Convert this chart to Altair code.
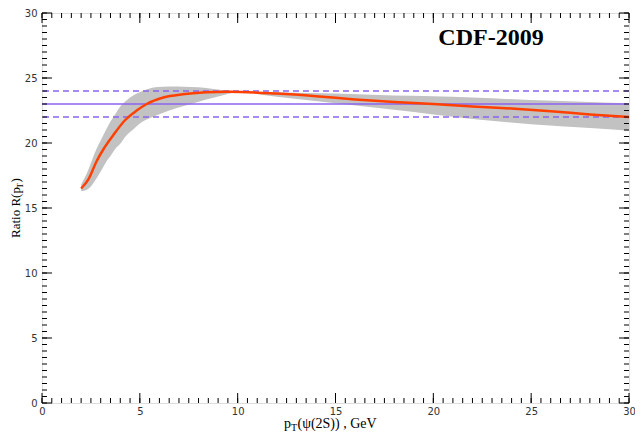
import altair as alt
import pandas as pd

# central curve R(pT)
curve_x = [2.0, 2.37, 2.79, 3.13, 3.64, 4.24, 4.84, 5.35, 6.2, 7.2, 8.4, 9.5, 12.0, 14.0,
           16.0, 18.0, 20.0, 22.0, 24.0, 26.0, 28.0, 30.0]
curve_y = [16.5, 17.2, 18.6, 19.5, 20.6, 21.75, 22.5, 23.0, 23.5, 23.75, 23.9, 23.95, 23.8,
           23.6, 23.35, 23.15, 23.0, 22.8, 22.65, 22.45, 22.2, 22.0]

# uncertainty band
band_x = [2.0, 2.3, 2.8, 3.0, 3.3, 3.5, 3.8, 4.0, 4.3, 4.7, 5.0, 5.5, 5.9, 6.5, 6.9, 7.6,
          8.4, 9.3, 10.0, 12.0, 15.0, 18.0, 20.0, 22.0, 25.0, 28.0, 30.0]
band_lo = [16.3, 16.4, 17.3, 17.8, 18.6, 19.0, 19.65, 19.95, 20.55, 21.1, 21.5, 21.9, 22.15,
           22.5, 22.7, 23.0, 23.35, 23.7, 23.9, 23.55, 23.05, 22.55, 22.2, 21.85, 21.45,
           21.15, 20.95]
band_hi = [16.8, 17.7, 19.6, 20.2, 21.1, 21.65, 22.35, 22.8, 23.25, 23.7, 23.9, 24.2, 24.3,
           24.35, 24.35, 24.3, 24.23, 24.05, 23.98, 23.9, 23.8, 23.65, 23.6, 23.5, 23.3,
           23.15, 23.05]

ref_solid = [23]
ref_dashed = [22, 24]

major_ticks = [0, 5, 10, 15, 20, 25, 30]
minor_ticks = [i * 0.5 for i in range(61)]

W, H = 587, 390
MAJ, MIN = 10, 5

xs = alt.Scale(domain=[0, 30], nice=False, zero=False)
ys = alt.Scale(domain=[0, 30], nice=False, zero=False)
ax_x = alt.Axis(values=major_ticks, ticks=False, domain=False, grid=False, title=None,
                labelFont="DejaVu Sans", labelFontSize=10, labelColor="#333333",
                labelPadding=3, labelFlush=False, format="d")
ax_y = alt.Axis(values=major_ticks, ticks=False, domain=False, grid=False, title=None,
                labelFont="DejaVu Sans", labelFontSize=10, labelColor="#333333",
                labelPadding=5, labelFlush=False, format="d")

X = lambda f: alt.X(f, type="quantitative", scale=xs, axis=ax_x)
Y = lambda f: alt.Y(f, type="quantitative", scale=ys, axis=ax_y)

band_df = pd.DataFrame({"x": band_x, "lo": band_lo, "hi": band_hi})
curve_df = pd.DataFrame({"x": curve_x, "y": curve_y})

band = alt.Chart(band_df).mark_area(color="#c2c2c2", opacity=1,
                                    interpolate="monotone").encode(
    x=X("x"), y=Y("lo"), y2="hi")

solid = alt.Chart(pd.DataFrame({"y": ref_solid})).mark_rule(
    color="#8a63ee", strokeWidth=1.5).encode(y=Y("y"))
dashed = alt.Chart(pd.DataFrame({"y": ref_dashed})).mark_rule(
    color="#8a63ee", strokeWidth=1.5, strokeDash=[6, 4]).encode(y=Y("y"))

curve = alt.Chart(curve_df).mark_line(color="#ff4000", strokeWidth=2.5,
                                      interpolate="monotone").encode(x=X("x"), y=Y("y"))

maj_df = pd.DataFrame({"x": major_ticks, "y": major_ticks})
min_df = pd.DataFrame({"x": minor_ticks, "y": minor_ticks})


def tick_layers(df, L):
    t = alt.Chart(df).mark_rule(color="black", strokeWidth=1)
    return [
        t.encode(x=X("x"), y=alt.value(H), y2=alt.value(H - L)),
        t.encode(x=X("x"), y=alt.value(0), y2=alt.value(L)),
        t.encode(y=Y("y"), x=alt.value(0), x2=alt.value(L)),
        t.encode(y=Y("y"), x=alt.value(W), x2=alt.value(W - L)),
    ]


serif = "Liberation Serif"
one = pd.DataFrame({"a": [0]})


def txt(s, x, y, size, **kw):
    return alt.Chart(one).mark_text(text=s, font=serif, fontSize=size, color="black",
                                    baseline="middle", **kw).encode(
        x=alt.value(x), y=alt.value(y))


title = txt("CDF-2009", 449, 25, 24, fontWeight="bold", align="center")

# x axis title: p_T(ψ(2S)) , GeV
xt0 = 242
xty = 411
xtitle = [
    txt("p", xt0, xty, 14, align="left"),
    txt("T", xt0 + 7, xty + 4, 10, align="left"),
    txt("(ψ(2S)) , GeV", xt0 + 13.5, xty, 14, align="left"),
]
# y axis title: Ratio R(p_T)
yt0 = 225
ytx = -26
ytitle = [
    txt("Ratio R(p", ytx, yt0, 13, align="left", angle=270),
    txt("T", ytx + 4, yt0 - 49.5, 9, align="left", angle=270),
    txt(")", ytx, yt0 - 55.5, 13, align="left", angle=270),
]

layers = [band, solid, dashed, curve] + tick_layers(maj_df, MAJ) + tick_layers(min_df, MIN) \
    + [title] + xtitle + ytitle

chart = alt.layer(*layers).properties(
    width=W, height=H,
    autosize=alt.AutoSizeParams(type="none"),
    padding={"left": 34, "top": 5, "right": 6, "bottom": 30},
).configure_view(stroke="black", strokeWidth=1.5).configure(background="white")

chart.save("out.html", embed_options={"renderer": "svg", "actions": False})
